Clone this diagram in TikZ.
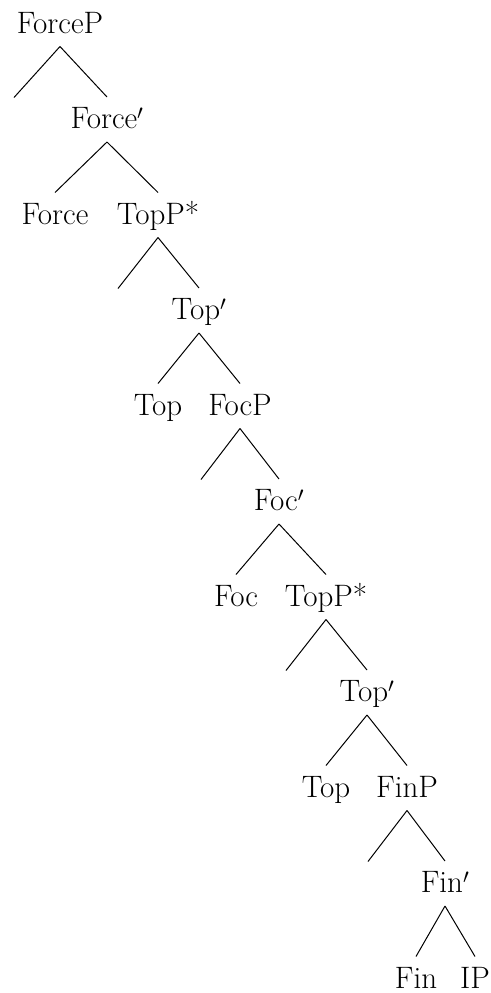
\documentclass[tikz,border=0pt]{standalone}
\begin{document}
\begin{tikzpicture}[x=1pt,y=-1pt,line width=1pt]

        \useasboundingbox (0,0) rectangle (490,993);

        \begin{scope}[every node/.style={anchor=base,inner sep=0pt,text height=31pt,text depth=13pt,font=\fontsize{31}{36}\selectfont}]
          \node (forceP)   at (60,33)    {ForceP};
          \node (forcebar) at (107,128.5) {Force$'$};
          \node (force)    at (55,224)   {Force};
          \node (topPa)    at (158,224)  {TopP*};
          \node (topbara)  at (199,319.5) {Top$'$};
          \node (topa)     at (158,415)  {Top};
          \node (focP)     at (240,415)  {FocP};
          \node (focbar)   at (279,510.5) {Foc$'$};
          \node (foc)      at (236,606)  {Foc};
          \node (topPb)    at (326,606)  {TopP*};
          \node (topbarb)  at (367,701.5) {Top$'$};
          \node (topb)     at (326,797)  {Top};
          \node (finP)     at (407,797)  {FinP};
          \node (finbar)   at (445,892.5) {Fin$'$};
          \node (fin)      at (416,988)  {Fin};
          \node (ip)       at (475,988)  {IP};
        \end{scope}

        \coordinate (spec1) at (14,97.5);
        \coordinate (spec2) at (118,288.5);
        \coordinate (spec3) at (201,479.5);
        \coordinate (spec4) at (286,670.5);
        \coordinate (spec5) at (368,861.5);

        \begin{scope}[every edge/.style={draw}]
          \path (forceP.south)  edge (spec1);
          \path (forceP.south)  edge (forcebar.north);
          \path (forcebar.south) edge (force.north);
          \path (forcebar.south) edge (topPa.north);
          \path (topPa.south)   edge (spec2);
          \path (topPa.south)   edge (topbara.north);
          \path (topbara.south) edge (topa.north);
          \path (topbara.south) edge (focP.north);
          \path (focP.south)    edge (spec3);
          \path (focP.south)    edge (focbar.north);
          \path (focbar.south)  edge (foc.north);
          \path (focbar.south)  edge (topPb.north);
          \path (topPb.south)   edge (spec4);
          \path (topPb.south)   edge (topbarb.north);
          \path (topbarb.south) edge (topb.north);
          \path (topbarb.south) edge (finP.north);
          \path (finP.south)    edge (spec5);
          \path (finP.south)    edge (finbar.north);
          \path (finbar.south)  edge (fin.north);
          \path (finbar.south)  edge (ip.north);
        \end{scope}

      \end{tikzpicture}
\end{document}
